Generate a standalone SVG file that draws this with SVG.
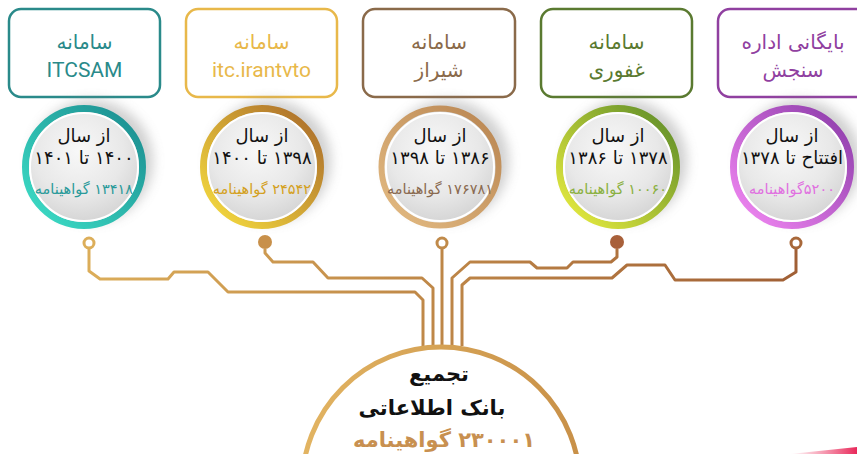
<svg xmlns="http://www.w3.org/2000/svg" width="857" height="454" viewBox="0 0 857 454">
<defs>
<style>
.box{fill:#fff;stroke-width:2.5}
.bt{font-family:"DejaVu Sans",sans-serif;font-size:20px;text-anchor:middle;direction:rtl}
.lt{font-family:Roboto,"DejaVu Sans",sans-serif;font-size:21px;text-anchor:middle}
.ct{font-family:"DejaVu Sans",sans-serif;font-size:18px;text-anchor:middle;direction:rtl;fill:#111}
.cn{font-family:"DejaVu Sans",sans-serif;font-size:14.5px;text-anchor:middle;direction:rtl}
.face{fill:url(#face);stroke:#fff;stroke-width:2}
.wire{fill:none;stroke:url(#wire);stroke-width:3;stroke-linejoin:round}
.big{font-family:"DejaVu Sans",sans-serif;font-size:21px;font-weight:bold;text-anchor:middle;direction:rtl}
.shd{fill:#8a8a8a;opacity:0.4}
</style>
<radialGradient id="face" cx="0.45" cy="0.35" r="0.7">
<stop offset="0" stop-color="#f8f8f8"/><stop offset="0.6" stop-color="#e8e8e8"/><stop offset="1" stop-color="#d2d2d2"/>
</radialGradient>
<filter id="sh" x="-50%" y="-50%" width="200%" height="200%">
<feGaussianBlur stdDeviation="6"/>
</filter>
<linearGradient id="g1" x1="0" y1="1" x2="1" y2="0"><stop offset="0" stop-color="#3ee0c8"/><stop offset="1" stop-color="#1a8a8e"/></linearGradient>
<linearGradient id="g2" x1="0" y1="1" x2="1" y2="0"><stop offset="0" stop-color="#f8e040"/><stop offset="1" stop-color="#a8682a"/></linearGradient>
<linearGradient id="g3" x1="0" y1="1" x2="1" y2="0"><stop offset="0" stop-color="#e4bc84"/><stop offset="1" stop-color="#b88450"/></linearGradient>
<linearGradient id="g4" x1="0" y1="1" x2="1" y2="0"><stop offset="0" stop-color="#eef040"/><stop offset="1" stop-color="#5a8a28"/></linearGradient>
<linearGradient id="g5" x1="0" y1="1" x2="1" y2="0"><stop offset="0" stop-color="#f58af5"/><stop offset="1" stop-color="#8a3aa8"/></linearGradient>
<linearGradient id="wire" gradientUnits="userSpaceOnUse" x1="80" y1="0" x2="800" y2="0"><stop offset="0" stop-color="#dcae5a"/><stop offset="1" stop-color="#a05f35"/></linearGradient>
<linearGradient id="arc" x1="0" y1="0" x2="1" y2="0"><stop offset="0" stop-color="#e2b462"/><stop offset="1" stop-color="#c89048"/></linearGradient>
<linearGradient id="pink" x1="0" y1="0" x2="1" y2="0"><stop offset="0" stop-color="#f04a70" stop-opacity="0"/><stop offset="1" stop-color="#e8285a"/></linearGradient>
</defs>
<rect width="857" height="454" fill="#fff"/>

<g id="connectors">
<path class="wire" d="M89,249 V271 L100,279 H168 L174,272 H208 L228,292 H415 L423,300 V346"/>
<path class="wire" d="M265,249 V253 L273,262 H313 L328,278 H422 L433,288 V346"/>
<path class="wire" d="M442,249 V346"/>
<path class="wire" d="M617,249 V257 L611,262 H573 L567,268 H537 L530,262 H470 L452,278 V346"/>
<path class="wire" d="M796,249 V272 L783,280 H675 L665,265 H627 L612,278 H470 L462,285 V346"/>
</g>

<g id="n1">
<rect class="box" x="9" y="9" width="151" height="88" rx="12" stroke="#2a8a8a"/>
<text class="bt" x="84.5" y="49" fill="#2a8a8a">سامانه</text>
<text class="lt" x="84.5" y="77" fill="#2a8a8a">ITCSAM</text>
<circle class="shd" cx="92" cy="161" r="61" filter="url(#sh)"/>
<circle cx="84" cy="167" r="58.5" fill="none" stroke="url(#g1)" stroke-width="7"/>
<circle class="face" cx="84" cy="167" r="54"/>
<text class="ct" x="84" y="142">از سال</text>
<text class="ct" x="84" y="164">۱۴۰۰ تا ۱۴۰۱</text>
<text class="cn" x="84" y="194" fill="#2a9a9a">۱۳۴۱۸ گواهینامه</text>
<circle cx="89" cy="243" r="5" fill="#fff" stroke="#dcae5a" stroke-width="3"/>
</g>

<g id="n2">
<rect class="box" x="186" y="9" width="151" height="88" rx="12" stroke="#e8b84a"/>
<text class="bt" x="261.5" y="49" fill="#e8b84a">سامانه</text>
<text class="lt" x="261.5" y="77" fill="#e8b84a">itc.irantvto</text>
<circle class="shd" cx="270" cy="161" r="61" filter="url(#sh)"/>
<circle cx="262" cy="167" r="58.5" fill="none" stroke="url(#g2)" stroke-width="7"/>
<circle class="face" cx="262" cy="167" r="54"/>
<text class="ct" x="262" y="142">از سال</text>
<text class="ct" x="262" y="164">۱۳۹۸ تا ۱۴۰۰</text>
<text class="cn" x="262" y="194" fill="#d4a020">۲۴۵۴۲ گواهینامه</text>
<circle cx="265" cy="242" r="7" fill="#c8904a"/>
</g>

<g id="n3">
<rect class="box" x="363" y="9" width="152" height="88" rx="12" stroke="#8a6a4a"/>
<text class="bt" x="439" y="49" fill="#8a6a4a">سامانه</text>
<text class="bt" x="439" y="77" fill="#8a6a4a">شیراز</text>
<circle class="shd" cx="448" cy="161" r="61" filter="url(#sh)"/>
<circle cx="440" cy="167" r="58.5" fill="none" stroke="url(#g3)" stroke-width="6"/>
<circle class="face" cx="440" cy="167" r="54"/>
<text class="ct" x="440" y="142">از سال</text>
<text class="ct" x="440" y="164">۱۳۸۶ تا ۱۳۹۸</text>
<text class="cn" x="440" y="194" fill="#8a6a50">۱۷۶۷۸۱ گواهینامه</text>
<circle cx="442" cy="243" r="5" fill="#fff" stroke="#c08a4a" stroke-width="3"/>
</g>

<g id="n4">
<rect class="box" x="541" y="9" width="151" height="88" rx="12" stroke="#5a7a30"/>
<text class="bt" x="616.5" y="49" fill="#5a7a30">سامانه</text>
<text class="bt" x="616.5" y="77" fill="#5a7a30">غفوری</text>
<circle class="shd" cx="626" cy="161" r="61" filter="url(#sh)"/>
<circle cx="618" cy="167" r="58.5" fill="none" stroke="url(#g4)" stroke-width="7"/>
<circle class="face" cx="618" cy="167" r="54"/>
<text class="ct" x="618" y="142">از سال</text>
<text class="ct" x="618" y="164">۱۳۷۸ تا ۱۳۸۶</text>
<text class="cn" x="618" y="194" fill="#8ab040">۱۰۰۶۰ گواهینامه</text>
<circle cx="617" cy="242" r="7" fill="#a8603a"/>
</g>

<g id="n5">
<rect class="box" x="718" y="9" width="151" height="88" rx="12" stroke="#9040a0"/>
<text class="bt" x="793" y="49" fill="#9040a0">بایگانی اداره</text>
<text class="bt" x="793" y="77" fill="#9040a0">سنجش</text>
<circle class="shd" cx="800" cy="161" r="61" filter="url(#sh)"/>
<circle cx="792" cy="167" r="58.5" fill="none" stroke="url(#g5)" stroke-width="7"/>
<circle class="face" cx="792" cy="167" r="54"/>
<text class="ct" x="792" y="142">از سال</text>
<text class="ct" x="792" y="164">افتتاح تا ۱۳۷۸</text>
<text class="cn" x="792" y="194" fill="#e070e0">۵۲۰۰گواهینامه</text>
<circle cx="796" cy="243" r="5" fill="#fff" stroke="#a8683a" stroke-width="3"/>
</g>

<g id="hub">
<circle cx="441" cy="486" r="139" fill="#fff" stroke="url(#arc)" stroke-width="5"/>
<text class="big" x="439" y="381" fill="#111">تجمیع</text>
<text class="big" x="432" y="415" fill="#111">بانک اطلاعاتی</text>
<text class="big" x="444" y="447" fill="#c89050">۲۳۰۰۰۱ گواهینامه</text>
</g>

<polygon points="790,454 857,447 857,454" fill="url(#pink)"/>
</svg>
